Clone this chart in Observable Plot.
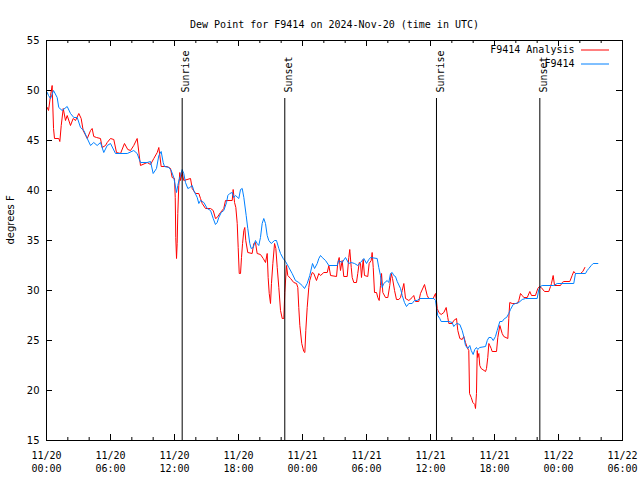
<!DOCTYPE html>
<html><head><meta charset="utf-8">
<script src="https://cdn.jsdelivr.net/npm/d3@7"></script>
<script src="https://cdn.jsdelivr.net/npm/@observablehq/plot@0.6"></script>
<style>
body{margin:0;background:#fff;}
svg{display:block;}
</style>
</head><body><div id="chart"></div>
<script>
const titleText = "Dew Point for F9414 on 2024-Nov-20 (time in UTC)";
const yLabelText = "degrees F";
const seriesNames = ["F9414 Analysis", "F9414"];
const seriesColors = ["#ff0000", "#0080ff"];
const startUTC = Date.UTC(2024, 10, 20, 0, 0);
const xDomainHours = [0, 54];
const yDomain = [15, 55];
const yTicks = [15, 20, 25, 30, 35, 40, 45, 50, 55];

// hours since 2024-11-20 00:00 UTC
const analysisHours = [0.07,0.19,0.38,0.53,0.66,0.75,1.15,1.25,1.38,1.57,1.78,1.94,2.25,2.50,2.72,3.03,3.25,3.44,3.82,4.13,4.28,4.43,4.69,5.06,5.22,5.53,5.69,6.00,6.31,6.56,6.94,7.31,7.62,7.88,8.18,8.50,8.81,9.44,9.75,10.06,10.38,10.53,10.75,11.32,11.63,11.78,12.00,12.07,12.12,12.19,12.25,12.31,12.40,12.50,12.56,12.72,12.87,13.50,13.66,13.97,14.28,14.44,14.60,14.91,15.38,15.63,15.84,16.00,16.31,16.62,16.78,17.41,17.50,17.63,17.75,17.88,17.97,18.07,18.19,18.28,18.38,18.50,18.59,18.68,18.87,19.28,19.43,19.59,19.75,20.06,20.32,20.53,20.69,20.78,20.88,21.00,21.09,21.22,21.38,21.50,21.63,21.78,21.94,22.10,22.25,22.34,22.50,22.62,22.88,23.18,23.44,23.56,23.65,23.75,23.93,24.12,24.22,24.31,24.44,24.59,24.68,24.82,24.91,25.06,25.31,25.53,25.69,26.00,26.32,26.47,26.63,27.19,27.31,27.44,27.56,27.72,27.87,28.19,28.34,28.43,28.57,28.66,28.81,29.06,29.18,29.32,29.44,29.53,29.69,29.81,30.12,30.25,30.44,30.53,30.63,30.75,30.94,31.06,31.19,31.31,31.41,31.53,31.78,32.00,32.18,32.32,32.44,32.63,32.81,33.03,33.19,33.35,33.50,33.66,33.97,34.28,34.43,34.59,34.90,35.06,35.44,35.69,35.84,36.25,36.47,36.56,36.63,36.78,37.00,37.25,37.47,37.62,37.72,38.03,38.18,38.44,38.56,38.75,38.97,39.12,39.28,39.44,39.59,39.66,39.82,39.97,40.15,40.22,40.31,40.38,40.43,40.53,40.62,40.75,41.16,41.25,41.37,41.47,41.56,41.69,41.78,42.19,42.31,42.50,42.72,42.87,43.25,43.34,43.43,43.66,44.13,44.28,44.44,44.60,44.75,45.07,45.31,45.47,45.84,46.06,46.22,46.38,46.69,47.09,47.25,47.34,47.50,47.63,48.19,48.35,48.50,49.06,49.28,49.43,49.59,50.06,50.28,50.47];
const analysisValues = [48.3,48.0,49.5,50.5,46.2,45.2,45.2,44.9,46.5,48.2,47.0,47.5,46.5,47.2,47.0,47.7,47.2,46.0,45.2,46.0,46.2,45.4,45.3,45.2,44.3,44.5,44.8,45.2,45.1,43.8,43.7,44.7,44.1,44.0,44.5,45.2,42.5,42.8,42.6,43.2,43.8,44.3,42.4,42.4,42.2,41.3,41.2,39.3,35.3,33.2,34.7,37.7,40.5,41.8,41.0,41.8,41.0,41.2,40.2,39.7,39.7,39.2,38.7,38.2,38.2,38.0,37.2,37.3,37.8,38.2,39.0,39.0,40.1,38.8,38.3,36.7,34.3,31.7,31.7,33.3,34.7,36.0,36.3,35.0,33.8,33.7,34.7,34.8,33.7,33.6,33.2,32.8,33.7,31.3,29.7,28.7,30.7,32.7,34.7,34.2,32.3,30.3,28.0,27.2,27.2,29.8,32.5,31.5,31.2,30.8,30.7,30.3,28.3,26.5,24.7,23.9,23.8,26.0,28.3,30.3,31.0,31.5,31.8,31.7,31.0,31.7,31.5,31.8,31.8,32.5,31.5,31.4,32.8,33.3,32.0,33.0,31.4,31.4,33.3,34.1,32.3,31.3,30.8,30.8,31.7,32.8,32.7,31.3,33.1,31.5,31.4,32.7,33.0,33.8,32.3,29.8,29.8,29.3,29.0,30.5,31.7,29.8,29.3,29.3,30.5,31.7,31.2,30.0,29.1,29.1,29.3,30.0,30.7,29.2,29.0,29.3,29.5,28.9,28.9,29.7,30.6,29.5,29.2,29.2,29.7,29.0,28.2,27.8,27.6,27.8,28.3,27.3,26.7,26.7,27.0,27.2,26.0,25.2,25.1,25.4,24.8,24.3,24.0,19.7,19.3,18.8,18.6,18.2,19.7,24.0,23.3,23.7,22.5,22.2,21.9,22.2,23.3,24.7,24.5,24.2,23.9,23.9,25.3,26.5,25.7,25.4,25.2,27.2,28.8,28.7,28.7,29.0,29.7,29.5,29.3,29.3,29.9,29.5,29.5,30.2,30.4,30.3,29.9,29.9,30.4,30.7,31.5,30.5,30.5,30.8,30.9,30.9,31.5,31.9,31.7,31.7,31.9,32.3];

const stationHours = [0.07,0.19,0.38,0.66,1.00,1.15,1.47,1.94,2.25,2.56,2.88,3.19,3.50,3.82,4.13,4.43,4.75,5.06,5.37,5.69,6.00,6.47,7.57,8.18,8.50,8.81,9.44,9.75,10.00,10.31,10.53,10.75,10.94,11.06,11.47,11.69,11.93,12.19,12.31,12.44,12.56,12.72,12.87,13.03,13.25,13.43,13.66,13.81,14.13,14.28,14.44,14.75,15.07,15.38,15.63,15.84,16.00,16.15,16.38,16.62,16.88,17.00,17.18,17.41,17.56,17.72,18.03,18.19,18.35,18.50,18.72,18.87,19.06,19.19,19.38,19.59,19.75,19.90,20.06,20.22,20.37,20.53,20.69,20.84,21.07,21.38,21.56,21.78,21.94,22.19,22.41,22.72,23.03,23.34,23.65,23.97,24.19,24.44,24.68,24.94,25.13,25.38,25.53,25.69,25.85,26.16,26.47,27.25,27.40,27.72,28.03,28.34,28.57,28.88,29.18,29.44,29.75,30.00,30.22,30.38,31.00,31.15,31.31,31.47,31.62,31.94,32.09,32.25,32.41,32.56,32.72,32.88,33.19,33.35,33.56,33.75,33.97,34.28,34.50,34.75,35.00,36.31,36.47,36.56,36.68,36.87,37.00,37.72,38.03,38.18,38.34,38.50,38.75,38.97,39.12,39.28,39.50,39.68,39.82,40.00,40.15,40.31,40.43,40.62,41.16,41.32,41.47,41.69,41.88,42.09,42.25,42.50,42.72,42.94,43.13,43.34,43.50,43.75,43.97,44.28,44.60,44.91,46.00,46.15,46.31,46.47,47.56,47.88,49.43,49.59,50.53,50.69,50.84,51.07,51.25,51.69];
const stationValues = [49.8,49.5,49.2,50.0,49.3,48.3,48.0,48.4,47.7,47.3,47.3,46.3,46.0,45.2,44.5,44.8,44.5,44.8,43.8,44.5,44.7,43.7,43.7,44.0,43.7,42.8,42.8,42.9,41.7,42.2,43.5,43.9,42.8,42.4,42.3,42.0,41.3,39.8,40.5,41.1,41.5,42.1,41.7,40.8,40.2,40.3,40.5,40.0,39.3,38.7,39.0,38.8,38.2,38.0,37.2,36.6,36.8,37.3,37.8,38.0,38.8,39.5,39.7,39.8,39.3,39.5,39.2,40.1,40.2,39.3,37.5,36.2,34.7,34.2,34.3,35.0,34.7,34.5,35.3,36.7,37.2,36.7,35.5,35.0,34.7,35.0,35.0,34.2,33.7,33.2,32.9,32.3,31.7,31.0,30.8,30.5,30.2,30.7,31.5,32.7,32.2,32.7,33.2,33.5,33.3,33.0,32.5,32.5,33.0,32.8,33.3,32.7,32.8,32.7,32.5,32.8,33.2,32.7,33.1,33.3,33.2,32.3,31.5,30.3,30.7,31.0,30.8,31.7,31.8,31.5,31.4,30.9,30.2,29.5,28.8,28.4,28.7,28.7,29.0,29.0,29.2,29.2,29.0,28.3,27.5,27.2,26.9,26.9,26.8,26.4,26.6,26.7,26.6,26.0,25.4,24.5,24.2,24.5,24.0,23.6,24.1,24.3,24.1,24.3,24.4,25.0,25.3,25.3,25.0,25.4,26.0,26.9,26.9,27.2,27.3,27.7,28.1,28.6,28.7,28.8,29.1,29.2,29.2,30.1,30.4,30.5,30.5,30.7,30.7,31.7,31.7,32.0,32.2,32.5,32.7,32.7];

const sunHours = [12.72, 22.34, 36.56, 46.25];
const sunLabels = ["Sunrise", "Sunset", "Sunrise", "Sunset"];

const toDate = h => new Date(startUTC + h * 3600e3);
const W = 640, H = 480, mL = 46, mR = 18, mT = 40, mB = 40;
const pw = W - mL - mR, ph = H - mT - mB;
const font = "'DejaVu Sans Mono', monospace";

const majorX = d3.range(xDomainHours[0], xDomainHours[1] + 0.01, 6).map(toDate);
const minorX = d3.range(xDomainHours[0], xDomainHours[1] + 0.01, 2).filter(h => h % 6 !== 0).map(toDate);
const analysis = analysisHours.map((h, i) => ({t: toDate(h), v: analysisValues[i]}));
const station = stationHours.map((h, i) => ({t: toDate(h), v: stationValues[i]}));
const sunEvents = sunHours.map((h, i) => ({t: toDate(h), label: sunLabels[i]}));

// legend rows: vertical pixel offsets below the frame top, converted to y-scale values
const legendOffsets = [9.5, 23.5];
const pxToY = px => yDomain[1] - px * (yDomain[1] - yDomain[0]) / ph;
const legend = seriesNames.map((name, i) => ({name, color: seriesColors[i], y: pxToY(legendOffsets[i])}));

const chart = Plot.plot({
  width: W, height: H,
  marginLeft: mL, marginRight: mR, marginTop: mT, marginBottom: mB,
  style: {fontFamily: font, fontSize: "10px", background: "#fff", color: "#000", overflow: "visible"},
  x: {type: "utc", domain: xDomainHours.map(toDate)},
  y: {domain: yDomain},
  marks: [
    Plot.axisX(majorX, {tickSize: 0, tickPadding: 9, tickFormat: d3.utcFormat("%m/%d\n%H:%M"), lineHeight: 1.3, label: null, fill: "#000"}),
    Plot.axisY(yTicks, {tickSize: 0, tickPadding: 7, label: null, fill: "#000", fontFamily: "'DejaVu Sans', sans-serif"}),
    Plot.ruleX(majorX, {insetTop: ph - 6, stroke: "#000"}),
    Plot.ruleX(majorX, {insetBottom: ph - 6, stroke: "#000"}),
    Plot.ruleX(minorX, {insetTop: ph - 3, stroke: "#000"}),
    Plot.ruleX(minorX, {insetBottom: ph - 3, stroke: "#000"}),
    Plot.ruleY(yTicks, {insetRight: pw - 6, stroke: "#000"}),
    Plot.ruleY(yTicks, {insetLeft: pw - 6, stroke: "#000"}),
    Plot.line(analysis, {x: "t", y: "v", stroke: seriesColors[0], strokeWidth: 1}),
    Plot.line(station, {x: "t", y: "v", stroke: seriesColors[1], strokeWidth: 1}),
    Plot.ruleX(sunEvents, {x: "t", insetTop: 58, stroke: "#000", strokeWidth: 1}),
    Plot.text(sunEvents, {x: "t", text: "label", frameAnchor: "top", dy: 52, rotate: -90, textAnchor: "start", fill: "#000"}),
    Plot.text(legend, {y: "y", text: "name", frameAnchor: "right", dx: -48, textAnchor: "end", fill: "#000"}),
    Plot.ruleY(legend, {y: "y", stroke: "color", insetLeft: pw - 41, insetRight: 13, strokeWidth: 1}),
    Plot.text([titleText], {text: d => d, frameAnchor: "top", dy: -20, fill: "#000"}),
    Plot.text([yLabelText], {text: d => d, frameAnchor: "left", dx: -36, dy: 4, rotate: -90, fill: "#000", fontFamily: "'DejaVu Sans', sans-serif"}),
    Plot.frame({stroke: "#000"})
  ]
});

document.getElementById("chart").appendChild(chart);
</script>
</body></html>
